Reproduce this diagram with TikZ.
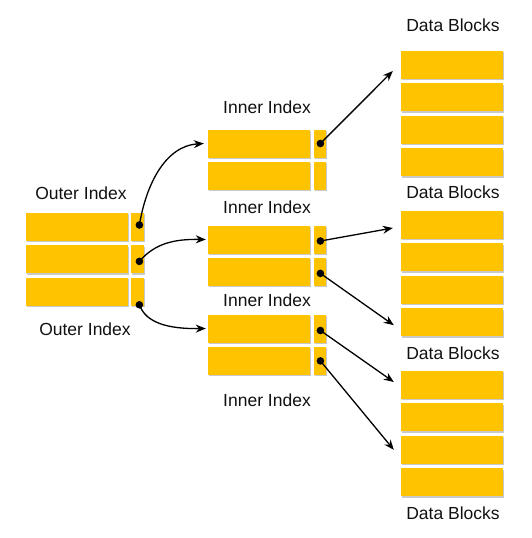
\documentclass[tikz,border=0pt]{standalone}
\usepackage{fontspec}
\setmainfont{Liberation Sans}
\usetikzlibrary{positioning, arrows.meta, shadows}
\definecolor{clrblock}{HTML}{FFC300}
\definecolor{clrtext}{HTML}{111111}
\definecolor{clrline}{HTML}{000000}
\begin{document}
\begin{tikzpicture}[
    x=1pt, y=-1pt,
    >=Stealth,
    every node/.style={font=\fontsize{17.5}{20}\selectfont, text=clrtext},
    blk/.style={fill=clrblock, inner sep=0, minimum width=102pt, minimum height=28pt,
                drop shadow={shadow xshift=0.6pt, shadow yshift=-1.3pt, opacity=0.3, fill=black!70}},
    ptr/.style={blk, minimum width=12pt},
    arrow/.style={-{Stealth[length=10pt, width=8pt]}, color=clrline, line width=1.3pt},
    dot/.style={fill=clrline},
    label/.style={inner sep=0},
]
\useasboundingbox (0,0) rectangle (531,538);
% outer index
\node[blk] (o_1) at (77,227) {};
\node[blk, below=4pt of o_1] (o_2) {};
\node[blk, below=4pt of o_2] (o_3) {};
\node[ptr, minimum width=13pt, right=3pt of o_1] (op_1) {};
\node[ptr, minimum width=13pt, right=3pt of o_2] (op_2) {};
\node[ptr, minimum width=13pt, right=3pt of o_3] (op_3) {};
\node[label] (o_title) at (81,193) {Outer Index};
\node[label] (o_caption) at (85,329) {Outer Index};
% inner index
\node[blk] (i_1_1) at (259,143.5) {};
\node[blk, below=4pt of i_1_1] (i_1_2) {};
\node[ptr, right=4pt of i_1_1] (ip_1_1) {};
\node[ptr, right=4pt of i_1_2] (ip_1_2) {};
\node[blk] (i_2_1) at (259,239.5) {};
\node[blk, below=4pt of i_2_1] (i_2_2) {};
\node[ptr, right=4pt of i_2_1] (ip_2_1) {};
\node[ptr, right=4pt of i_2_2] (ip_2_2) {};
\node[blk] (i_3_1) at (259,328.5) {};
\node[blk, below=4pt of i_3_1] (i_3_2) {};
\node[ptr, right=4pt of i_3_1] (ip_3_1) {};
\node[ptr, right=4pt of i_3_2] (ip_3_2) {};
\node[label] (i_title_1) at (267,107) {Inner Index};
\node[label] (i_title_2) at (267,207) {Inner Index};
\node[label] (i_title_3) at (267,300) {Inner Index};
\node[label] (i_title_4) at (267,400) {Inner Index};
% data blocks
\node[blk] (d_1_1) at (452,65) {};
\node[blk, below=4pt of d_1_1] (d_1_2) {};
\node[blk, below=4pt of d_1_2] (d_1_3) {};
\node[blk, below=4pt of d_1_3] (d_1_4) {};
\node[blk] (d_2_1) at (452,225) {};
\node[blk, below=4pt of d_2_1] (d_2_2) {};
\node[blk, below=4pt of d_2_2] (d_2_3) {};
\node[blk, below=4pt of d_2_3] (d_2_4) {};
\node[blk] (d_3_1) at (452,385) {};
\node[blk, below=4pt of d_3_1] (d_3_2) {};
\node[blk, below=4pt of d_3_2] (d_3_3) {};
\node[blk, below=4pt of d_3_3] (d_3_4) {};
\node[label] (d_title_1) at (453,25) {Data Blocks};
\node[label] (d_title_2) at (453,192) {Data Blocks};
\node[label] (d_title_3) at (453,353) {Data Blocks};
\node[label] (d_title_4) at (453,513) {Data Blocks};
% pointer ends
\coordinate (c_o_1) at ([xshift=1.5pt, yshift=2pt]op_1.center);
\coordinate (c_o_2) at ([xshift=1.5pt, yshift=-2pt]op_2.center);
\coordinate (c_o_3) at ([xshift=1.5pt, yshift=-13pt]op_3.center);
\coordinate (c_i_1) at (ip_1_1.center);
\coordinate (c_i_2) at ([yshift=-1.5pt]ip_2_1.center);
\coordinate (c_i_3) at ([yshift=-1.5pt]ip_2_2.center);
\coordinate (c_i_4) at ([yshift=-2pt]ip_3_1.center);
\coordinate (c_i_5) at (ip_3_2.center);
% outer -> inner
\draw[arrow] (c_o_1) .. controls (146,185) and (165,146) .. ([xshift=-4pt]i_1_1.west);
\draw[arrow] (c_o_2) .. controls (155,243) and (175,239) .. ([xshift=-2pt]i_2_1.west);
\draw[arrow] (c_o_3) .. controls (146,323) and (168,329) .. ([xshift=-2pt]i_3_1.west);
% inner -> data
\draw[arrow] (c_i_1) -- ([xshift=-8pt, yshift=-6pt]d_1_1.west);
\draw[arrow] (c_i_2) -- ([xshift=-8pt, yshift=-3pt]d_2_1.west);
\draw[arrow] (c_i_3) -- ([xshift=-7pt, yshift=-3pt]d_2_4.west);
\draw[arrow] (c_i_4) -- ([xshift=-7pt, yshift=3pt]d_3_1.west);
\draw[arrow] (c_i_5) -- ([xshift=-7pt]d_3_3.west);
\foreach \c in {c_o_1, c_o_2, c_o_3, c_i_1, c_i_2, c_i_3, c_i_4, c_i_5}
  \fill[dot] (\c) circle (3.8pt);
\end{tikzpicture}
\end{document}
